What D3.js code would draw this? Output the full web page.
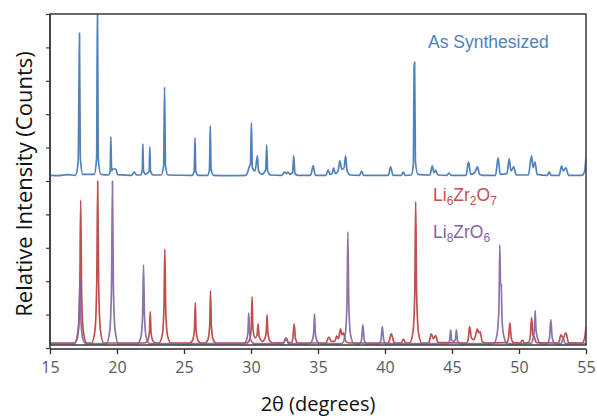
<!DOCTYPE html>
<html>
<head>
<meta charset="utf-8">
<script src="https://cdn.jsdelivr.net/npm/d3@7/dist/d3.min.js"></script>
<style>
  body { margin: 0; background: #fff; }
</style>
</head>
<body>
<svg id="chart" width="597" height="416"></svg>
<script>
// 2θ tick labels along the bottom axis
const thetaTicks = [15, 20, 25, 30, 35, 40, 45, 50, 55];
// unlabeled intensity ticks on the left axis
const intensityTicks = [0, 1, 2, 3, 4, 5, 6, 7, 8, 9, 10];

// Measured pattern of the synthesized powder: [2θ, relative counts]
const asSynthesized = [
  [15, 0.17], [15.6, 0.16], [16.3, 0.19], [16.9, 0.17],
  [17.1, 0.55], [17.16, 2.8], [17.2, 4.43], [17.26, 0.7], [17.45, 0.2],
  [18.3, 0.2], [18.48, 0.7], [18.54, 5.4], [18.6, 0.7], [18.8, 0.2],
  [19.35, 0.18], [19.49, 0.3], [19.54, 1.32], [19.6, 0.3], [19.68, 0.36], [19.9, 0.36], [20.05, 0.19],
  [21.1, 0.17], [21.3, 0.27], [21.45, 0.18],
  [21.75, 0.18], [21.88, 0.3], [21.93, 1.11], [21.98, 0.3], [22.15, 0.2],
  [22.4, 0.3], [22.45, 1.02], [22.5, 0.3], [22.7, 0.18],
  [23.3, 0.18], [23.48, 0.45], [23.55, 2.81], [23.62, 0.45], [23.8, 0.18],
  [25.6, 0.17], [25.76, 0.3], [25.82, 1.29], [25.88, 0.3], [26.05, 0.17],
  [26.75, 0.17], [26.9, 0.35], [26.96, 1.65], [27.02, 0.35], [27.2, 0.17],
  [28.4, 0.16], [29.6, 0.17], [29.78, 0.3], [29.86, 0.42], [29.96, 0.5], [30.03, 1.74], [30.1, 0.4],
  [30.3, 0.3], [30.48, 0.75], [30.56, 0.3], [30.8, 0.2],
  [31.1, 0.35], [31.17, 1.08], [31.24, 0.3], [31.45, 0.18],
  [32.3, 0.17], [32.5, 0.27], [32.65, 0.22], [32.75, 0.27], [32.9, 0.2],
  [33.1, 0.25], [33.19, 0.75], [33.28, 0.22], [33.5, 0.17],
  [34.45, 0.17], [34.64, 0.45], [34.8, 0.17],
  [35.6, 0.17], [35.76, 0.33], [35.9, 0.2],
  [36.05, 0.22], [36.16, 0.39], [36.3, 0.22], [36.5, 0.3], [36.63, 0.6], [36.78, 0.35],
  [36.95, 0.4], [37.06, 0.75], [37.18, 0.3], [37.4, 0.18],
  [38.1, 0.17], [38.25, 0.3], [38.4, 0.17],
  [40.25, 0.17], [40.42, 0.42], [40.6, 0.17],
  [41.2, 0.17], [41.37, 0.27], [41.5, 0.17],
  [41.95, 0.18], [42.12, 0.5], [42.17, 3.4], [42.21, 3.56], [42.27, 0.6], [42.45, 0.2],
  [43.35, 0.18], [43.53, 0.45], [43.65, 0.25], [43.78, 0.33], [43.95, 0.18],
  [44.6, 0.17], [44.78, 0.24], [44.95, 0.17],
  [46.05, 0.17], [46.23, 0.57], [46.4, 0.2], [46.7, 0.25], [46.9, 0.42], [47.05, 0.2], [47.3, 0.17],
  [48.25, 0.17], [48.44, 0.69], [48.6, 0.2], [49.1, 0.22], [49.27, 0.66], [49.4, 0.3],
  [49.6, 0.42], [49.8, 0.18],
  [50.7, 0.18], [50.94, 0.75], [51.05, 0.4], [51.19, 0.57], [51.35, 0.2],
  [52.1, 0.17], [52.26, 0.27], [52.4, 0.17],
  [53.0, 0.17], [53.18, 0.45], [53.3, 0.3], [53.5, 0.39], [53.7, 0.17],
  [54.7, 0.17], [54.9, 0.3], [55, 0.72]
];

// Reference pattern for Li6Zr2O7: [2θ, relative counts]
const li6zr2o7 = [
  [15, 0.15], [16.84, 0.15], [17.09, 0.49], [17.22, 1.65], [17.29, 4.43], [17.36, 1.65], [17.49, 0.49], [17.74, 0.15],
  [18.11, 0.15], [18.36, 0.54], [18.49, 2.0], [18.56, 5.0], [18.63, 2.0], [18.76, 0.54], [19.01, 0.15],
  [22.08, 0.15], [22.3, 0.23], [22.42, 0.48], [22.48, 1.09], [22.54, 0.48], [22.66, 0.23], [22.9, 0.15],
  [23.12, 0.15], [23.37, 0.37], [23.5, 1.13], [23.57, 2.96], [23.64, 1.13], [23.77, 0.37], [24.02, 0.15],
  [25.44, 0.15], [25.66, 0.25], [25.78, 0.57], [25.84, 1.36], [25.9, 0.57], [26.02, 0.25], [26.24, 0.15],
  [26.58, 0.15], [26.8, 0.27], [26.92, 0.7], [26.98, 1.71], [27.04, 0.7], [27.16, 0.27], [27.38, 0.15],
  [29.7, 0.15], [29.9, 0.25], [30.02, 0.63], [30.08, 1.53], [30.14, 0.6], [30.3, 0.3],
  [30.45, 0.38], [30.53, 0.72], [30.6, 0.35], [30.85, 0.2],
  [31.05, 0.3], [31.14, 0.5], [31.2, 0.99], [31.26, 0.45], [31.4, 0.22], [31.65, 0.15],
  [32.45, 0.16], [32.62, 0.3], [32.8, 0.16],
  [33.0, 0.16], [33.12, 0.28], [33.22, 0.72], [33.32, 0.28], [33.5, 0.15],
  [35.6, 0.15], [35.8, 0.33], [36.0, 0.2],
  [36.25, 0.2], [36.4, 0.36], [36.52, 0.28], [36.68, 0.57], [36.78, 0.4], [36.9, 0.45], [37.05, 0.22], [37.3, 0.15],
  [40.25, 0.15], [40.47, 0.42], [40.7, 0.15],
  [41.2, 0.15], [41.37, 0.27], [41.55, 0.15],
  [41.84, 0.15], [42.09, 0.49], [42.22, 1.63], [42.29, 4.38], [42.36, 1.63], [42.49, 0.49], [42.74, 0.15],
  [43.25, 0.15], [43.46, 0.42], [43.6, 0.28], [43.78, 0.37], [43.95, 0.17],
  [46.1, 0.15], [46.22, 0.3], [46.32, 0.64], [46.45, 0.3], [46.65, 0.25], [46.9, 0.57], [47.0, 0.45],
  [47.1, 0.49], [47.25, 0.2], [47.5, 0.15],
  [49.1, 0.16], [49.22, 0.3], [49.32, 0.75], [49.42, 0.3], [49.6, 0.16],
  [50.1, 0.15], [50.26, 0.24], [50.4, 0.15],
  [50.7, 0.16], [50.84, 0.35], [50.94, 0.91], [51.04, 0.4], [51.12, 0.35], [51.3, 0.16],
  [52.95, 0.15], [53.13, 0.39], [53.3, 0.3], [53.5, 0.45], [53.7, 0.16],
  [54.7, 0.15], [54.9, 0.3], [55, 0.64]
];

// Reference pattern for Li8ZrO6: [2θ, relative counts]
const li8zro6 = [
  [15, 0.13], [16.79, 0.13], [17.04, 0.29], [17.17, 0.83], [17.24, 2.13], [17.31, 0.83], [17.44, 0.29], [17.69, 0.13],
  [19.21, 0.13], [19.46, 0.52], [19.59, 1.83], [19.66, 5.0], [19.73, 1.83], [19.86, 0.52], [20.11, 0.13],
  [21.53, 0.13], [21.78, 0.32], [21.91, 0.96], [21.98, 2.49], [22.05, 0.96], [22.18, 0.32], [22.43, 0.13],
  [29.45, 0.13], [29.65, 0.22], [29.77, 0.48], [29.83, 1.05], [29.89, 0.48], [30.01, 0.22], [30.25, 0.13],
  [32.4, 0.13], [32.6, 0.3], [32.8, 0.13],
  [34.35, 0.13], [34.56, 0.22], [34.68, 0.47], [34.74, 1.02], [34.8, 0.47], [34.92, 0.22], [35.15, 0.13],
  [36.78, 0.13], [37.03, 0.4], [37.16, 1.3], [37.23, 3.48], [37.3, 1.3], [37.43, 0.4], [37.68, 0.13],
  [38.1, 0.13], [38.25, 0.25], [38.35, 0.69], [38.45, 0.25], [38.6, 0.13],
  [39.55, 0.13], [39.7, 0.25], [39.8, 0.64], [39.9, 0.25], [40.05, 0.13],
  [44.7, 0.13], [44.82, 0.22], [44.9, 0.54], [44.98, 0.22], [45.12, 0.2], [45.25, 0.25], [45.33, 0.54], [45.41, 0.22], [45.6, 0.13],
  [48.1, 0.13], [48.35, 0.38], [48.5, 1.15], [48.57, 3.08], [48.62, 1.95], [48.67, 1.89], [48.74, 0.8], [48.87, 0.35], [49.12, 0.13],
  [50.9, 0.14], [51.05, 0.3], [51.15, 0.55], [51.21, 1.12], [51.27, 0.55], [51.38, 0.3], [51.6, 0.13],
  [52.1, 0.13], [52.27, 0.3], [52.38, 0.84], [52.48, 0.3], [52.7, 0.13],
  [53.15, 0.13], [53.3, 0.3], [53.45, 0.13],
  [55, 0.13]
];

// measured pattern is stacked above the two references
const measuredOffset = 5;

const colors = { measured: "#4f81bd", li6: "#c0504d", li8: "#8064a2" };
const sansLabel = "Liberation Sans, Arial, sans-serif";
const sansAxis = "'Open Sans', 'Liberation Sans', sans-serif";

const svg = d3.select("#chart");
const plot = { left: 50, right: 586, top: 14, bottom: 348 };

const x = d3.scaleLinear().domain([15, 55]).range([plot.left, plot.right]);
const y = d3.scaleLinear().domain([0, 10]).range([plot.bottom, plot.top]);

svg.append("defs").append("clipPath").attr("id", "plotClip")
  .append("rect")
  .attr("x", plot.left).attr("y", plot.top)
  .attr("width", plot.right - plot.left).attr("height", plot.bottom - plot.top);

// traces
const traces = svg.append("g").attr("clip-path", "url(#plotClip)");
const line = offset => d3.line()
  .x(d => x(d[0]))
  .y(d => y(d[1] + offset))
  .curve(d3.curveMonotoneX);

traces.append("path").datum(li6zr2o7)
  .attr("d", line(0)).attr("fill", "none")
  .attr("stroke", colors.li6).attr("stroke-width", 1.7).attr("stroke-linejoin", "round");
traces.append("path").datum(li8zro6)
  .attr("d", line(0)).attr("fill", "none")
  .attr("stroke", colors.li8).attr("stroke-width", 1.7).attr("stroke-opacity", 0.9).attr("stroke-linejoin", "round");
traces.append("path").datum(asSynthesized)
  .attr("d", line(measuredOffset)).attr("fill", "none")
  .attr("stroke", colors.measured).attr("stroke-width", 1.7).attr("stroke-linejoin", "round");

// plot frame
svg.append("rect")
  .attr("x", plot.left).attr("y", plot.top)
  .attr("width", plot.right - plot.left).attr("height", plot.bottom - 3 - plot.top)
  .attr("fill", "none").attr("stroke", "#3a3a3a").attr("stroke-width", 1.5);

// left axis: unlabeled ticks
const yAxis = svg.append("g")
  .attr("transform", `translate(${plot.left},0)`)
  .call(d3.axisLeft(y).tickValues(intensityTicks).tickSize(4).tickFormat(""));
yAxis.select(".domain").attr("stroke", "#3a3a3a").attr("stroke-width", 1.5)
  .attr("d", `M0,${plot.top}V${plot.bottom + 1}`);
yAxis.selectAll(".tick line").attr("stroke", "#3a3a3a").attr("stroke-width", 1.2);

// bottom axis
const xAxis = svg.append("g")
  .attr("transform", `translate(0,${plot.bottom + 1})`)
  .call(d3.axisBottom(x).tickValues(thetaTicks).tickSize(5).tickPadding(8).tickFormat(d3.format("d")));
xAxis.select(".domain").attr("stroke", "#2a2a2a").attr("stroke-width", 1.5)
  .attr("d", `M${plot.left},0H${plot.right}`);
xAxis.selectAll(".tick line").attr("stroke", "#2a2a2a").attr("stroke-width", 1.3);
xAxis.selectAll(".tick text")
  .attr("fill", "#595959").style("font-size", "16px").style("font-family", sansAxis);

// axis titles
svg.append("text")
  .attr("x", (plot.left + plot.right) / 2).attr("y", 411)
  .attr("text-anchor", "middle").attr("fill", "#111")
  .style("font-size", "20px").style("font-family", sansAxis)
  .text("2θ (degrees)");
svg.append("text")
  .attr("transform", "translate(32,184) rotate(-90)")
  .attr("text-anchor", "middle").attr("fill", "#111")
  .style("font-size", "22px").style("font-family", sansAxis)
  .text("Relative Intensity (Counts)");

// pattern labels
svg.append("text")
  .attr("x", 428).attr("y", 48).attr("fill", colors.measured)
  .style("font-size", "17.5px").style("font-family", sansLabel)
  .text("As Synthesized");

function formula(parts, px, py, color) {
  const t = svg.append("text").attr("x", px).attr("y", py)
    .attr("fill", color).style("font-size", "17.5px").style("font-family", sansLabel);
  parts.forEach(([s, sub]) => {
    const span = t.append("tspan").text(s);
    if (sub) span.style("font-size", "12px").attr("dy", 4);
    else span.attr("dy", t.selectAll("tspan").size() > 1 ? -4 : 0);
  });
}
formula([["Li"], ["6", true], ["Zr"], ["2", true], ["O"], ["7", true]], 433, 201, colors.li6);
formula([["Li"], ["8", true], ["ZrO"], ["6", true]], 433, 238, colors.li8);
</script>
</body>
</html>
